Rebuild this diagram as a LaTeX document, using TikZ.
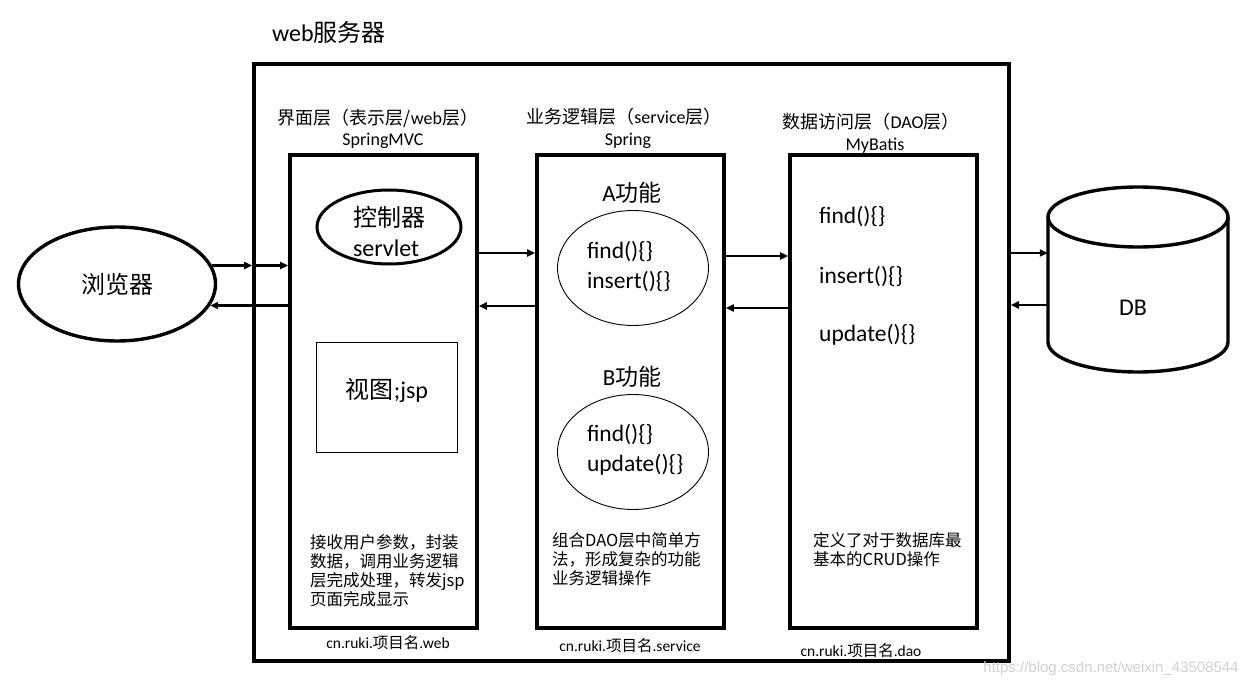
\documentclass[tikz,border=0pt]{standalone}
\usepackage{fontspec}
\setmainfont{Noto Sans CJK SC}
\newfontfamily\lat{Carlito}
\newfontfamily\wmfont{Liberation Sans}
\usetikzlibrary{shapes.geometric,arrows.meta,calc}
\begin{document}
\begin{tikzpicture}[x=1pt,y=-1pt,
  layerbox/.style={draw, rectangle, line width=3.6pt, minimum width=187pt, minimum height=473pt, inner sep=0pt},
  arr/.style={line width=2.6pt, -{Triangle[length=8pt,width=7pt]}},
  thinell/.style={draw, ellipse, line width=0.9pt, minimum width=151pt, minimum height=115pt, inner sep=0pt},
  ftitle/.style={inner sep=0pt, font=\fontsize{24}{30}\selectfont},
  fmid/.style={inner sep=0pt, font=\fontsize{23}{30}\selectfont},
  fcode/.style={inner sep=0pt, font=\lat\fontsize{23.5}{30}\selectfont},
  flabel/.style={inner sep=0pt, font=\fontsize{18}{22}\selectfont},
  fdesc/.style={inner sep=0pt, font=\fontsize{16.5}{19}\selectfont, align=left, anchor=north west},
  fpkg/.style={inner sep=0pt, font=\fontsize{15.5}{19}\selectfont}
]
\fill[white] (0,0) rectangle (1256,687);
\useasboundingbox (0,0) rectangle (1256,687);

% title
\node[ftitle, anchor=west] (title) at (272,32) {{\lat web}服务器};

% outer server box
\node[draw, line width=3.6pt, minimum width=755pt, minimum height=597pt, inner sep=0pt] (server) at (631.5,362.5) {};

% layer boxes
\node[layerbox] (b1) at (383.5,391.5) {};
\node[layerbox] (b2) at (630.5,391.5) {};
\node[layerbox] (b3) at (883.5,391.5) {};

% layer labels
\node[flabel] (l1) at (378,118) {界面层（表示层/{\lat web}层）};
\node[flabel] (s1) at (383,141) {\lat SpringMVC};
\node[flabel] (l2) at (624,117) {业务逻辑层（{\lat service}层）};
\node[flabel] (s2) at (628,141) {\lat Spring};
\node[flabel] (l3) at (871,122) {数据访问层（{\lat DAO}层）};
\node[flabel] (s3) at (875,146) {\lat MyBatis};

% browser
\node[draw, ellipse, line width=3.4pt, minimum width=197pt, minimum height=114pt, ftitle] (browser) at (117,284) {浏览器};

% controller
\node[draw, ellipse, line width=3pt, minimum width=144pt, minimum height=74pt, inner sep=0pt] (ctrl) at (389,227) {};
\node[ftitle, align=left] (ctrlt) at (389,231) {控制器\\{\lat servlet}};

% view
\node[draw, line width=0.9pt, minimum width=141pt, minimum height=110pt, inner sep=0pt] (view) at (387,397) {};
\node[ftitle] (viewt) at (387,390) {视图{\lat ;jsp}};

% service layer
\node[fmid] (at) at (632,193) {{\lat A}功能};
\node[thinell] (ea) at (633,268) {};
\node[fcode, align=left, text width=92pt] (eat) at (633,267) {find()\{\}\\insert()\{\}};
\node[fmid] (bt) at (632,377) {{\lat B}功能};
\node[thinell] (eb) at (633,452) {};
\node[fcode, align=left, text width=92pt] (ebt) at (633,450) {find()\{\}\\update()\{\}};

% dao layer
\node[fcode, anchor=west] (m1) at (819,217) {find()\{\}};
\node[fcode, anchor=west] (m2) at (819,277) {insert()\{\}};
\node[fcode, anchor=west] (m3) at (819,335) {update()\{\}};

% descriptions
\node[fdesc] (d1) at (310,534) {接收用户参数，封装\\数据，调用业务逻辑\\层完成处理，转发jsp\\页面完成显示};
\node[fdesc] (d2) at (552,532) {组合DAO层中简单方\\法，形成复杂的功能\\业务逻辑操作};
\node[fdesc] (d3) at (813,532) {定义了对于数据库最\\基本的CRUD操作};

% package labels
\node[fpkg] (p1) at (388,643) {{\lat cn.ruki.}项目名{\lat .web}};
\node[fpkg] (p2) at (630,646) {{\lat cn.ruki.}项目名{\lat .service}};
\node[fpkg] (p3) at (861,651) {{\lat cn.ruki.}项目名{\lat .dao}};

% database
\node[minimum width=180pt, minimum height=185pt, inner sep=0pt] (db) at (1138,279.5) {};
\draw[line width=3.4pt] (1138,217) ellipse [x radius=90pt, y radius=30pt];
\draw[line width=3.4pt] (1048,217) -- (1048,342) arc[start angle=180, end angle=360, x radius=90pt, y radius=30pt] -- (1228,217);
\node[ftitle] (dbt) at (1133,308) {\lat DB};

% connectors
\draw[arr] (browser.11) -- (browser.11 -| server.west);
\draw[arr] (browser.11 -| server.west) -- (browser.11 -| b1.west);
\draw[arr] (browser.-13 -| b1.west) -- (browser.-13);

\draw[arr] ([yshift=138.5pt]b1.east) -- ([yshift=138.5pt]b2.west);
\draw[arr] ([yshift=85.5pt]b2.west) -- ([yshift=85.5pt]b1.east);
\draw[arr] ([yshift=135.5pt]b2.east) -- ([yshift=135.5pt]b3.west);
\draw[arr] ([yshift=83.5pt]b3.west) -- ([yshift=83.5pt]b2.east);

\draw[arr] ([yshift=109.5pt]server.east) -- ([yshift=26.5pt]db.west);
\draw[arr] ([yshift=-25.5pt]db.west) -- ([yshift=57.5pt]server.east);

% watermark
\node[inner sep=0pt, font=\wmfont\fontsize{15}{18}\selectfont, text=black!18] (wm) at (1111,669) {https://blog.csdn.net/weixin\_43508544};
\end{tikzpicture}
\end{document}
